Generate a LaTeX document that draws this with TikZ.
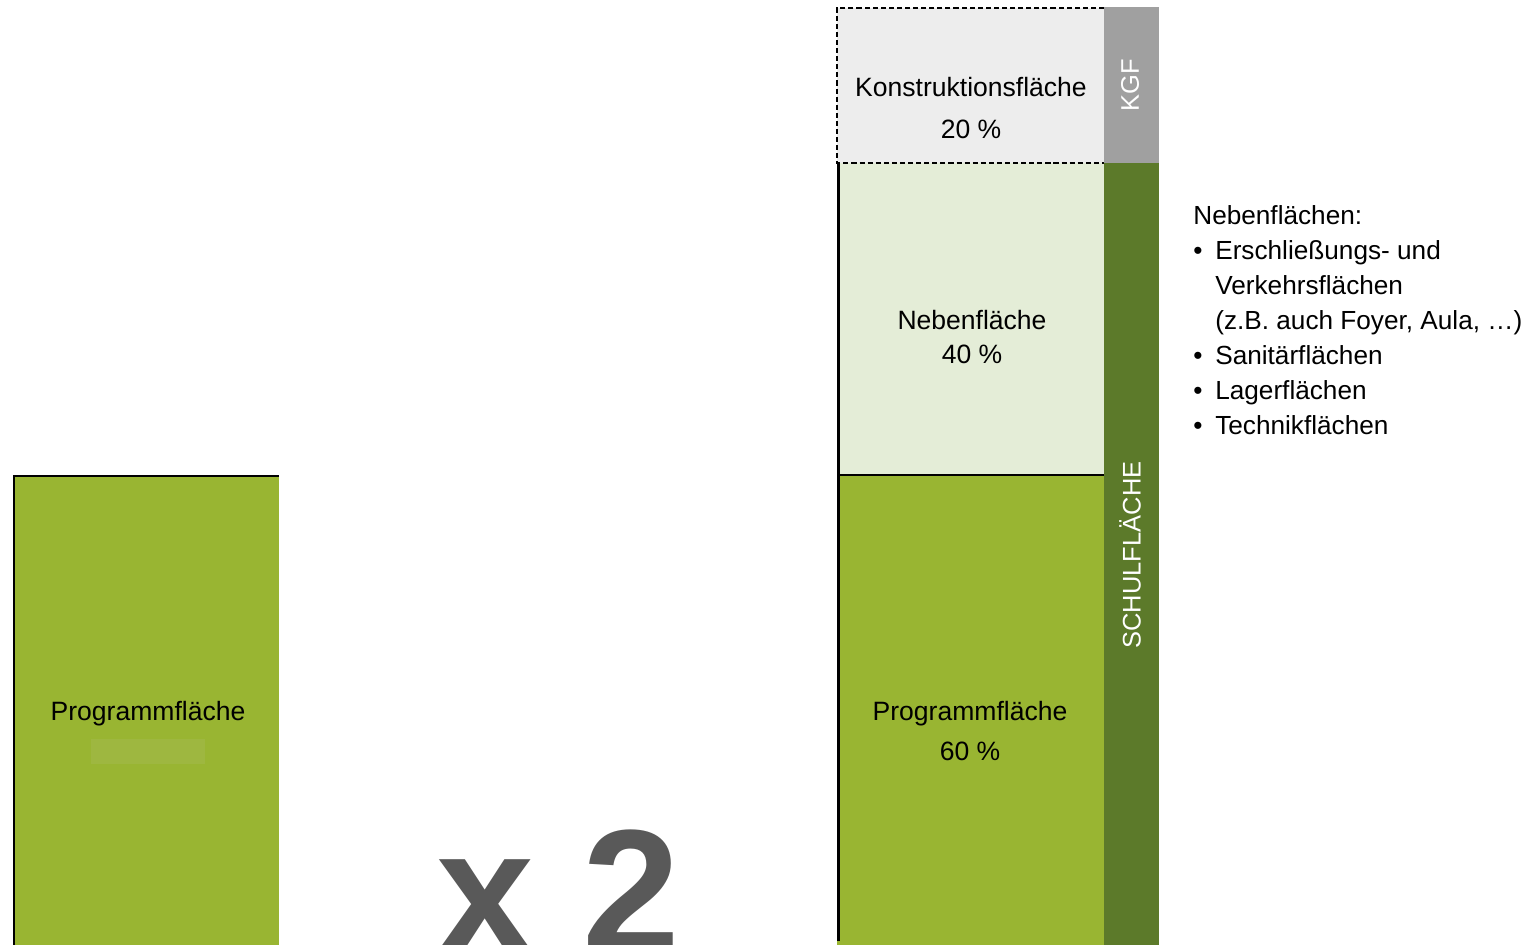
\documentclass[tikz,border=0pt]{standalone}
\usepackage{fontspec}
\setmainfont{Liberation Sans}
\usetikzlibrary{calc}
\definecolor{prog}{HTML}{99B532}
\definecolor{progfaint}{HTML}{9EB740}
\definecolor{neben}{HTML}{E4EDD7}
\definecolor{konst}{HTML}{EDEDED}
\definecolor{kgfbar}{HTML}{A0A0A0}
\definecolor{schulbar}{HTML}{5C7A2A}
\definecolor{bigtxt}{HTML}{595959}
\tikzset{
  sideline/.style={draw=black, line width=1.7pt},
  thinline/.style={draw=black, line width=1.0pt},
  dashline/.style={draw=black, line width=0.9pt, dash pattern=on 2.9pt off 1.7pt},
  lab/.style={text=black, align=center, inner sep=0pt, font=\fontsize{15.1}{18}\selectfont},
  barlab/.style={text=white, rotate=90, inner sep=0pt, font=\fontsize{14.5}{17}\selectfont},
  listtxt/.style={text=black, inner sep=0pt, anchor=north west, font=\fontsize{14.9}{19.9}\selectfont},
  bignum/.style={text=bigtxt, inner sep=0pt, anchor=base west, font=\fontsize{100}{100}\selectfont\bfseries},
}

\begin{document}
\begin{tikzpicture}[x=0.02cm, y=-0.02cm]
  \useasboundingbox (0,0) rectangle (1534,945);
  % single programme area
  \coordinate (L1) at (13,476);
  \coordinate (L2) at (279,945);
  \fill[prog] (L1) rectangle (L2);
  \fill[progfaint] (91,739) rectangle (205,764);
  \draw[thinline] (L1) -- (L1 -| L2);
  \draw[sideline] ($(L1)+(1,0)$) -- ($(L1|-L2)+(1,0)$);
  \node[lab] (progL) at (148,714) {Programmfläche};

  % factor
  \begin{scope}
    \clip (0,0) rectangle (1534,945);
    \node[bignum] (fac) at (436,952) {x 2};
  \end{scope}

  % stacked school area
  \coordinate (A) at (837,8);    % top left
  \coordinate (B) at (1104,163); % konst / neben
  \coordinate (C) at (1104,475); % neben / prog
  \coordinate (D) at (1104,945); % bottom right of column
  \coordinate (E) at (1159,7);   % right edge of bar
  \fill[konst] (A) rectangle (B);
  \fill[neben] (A|-B) rectangle (C);
  \fill[prog] (A|-C) rectangle (D);
  \fill[kgfbar] (B|-E) rectangle (E|-B);
  \fill[schulbar] (B) rectangle (E|-D);
  \draw[dashline] (A-|B) -- (A) -- (A|-B) -- (B);
  \draw[sideline] ($(A|-B)+(1,0)$) -- ($(A|-D)+(1,-4)$);
  \draw[thinline] (A|-C) -- (C);

  \node[lab] (konstT) at (971,108) {Konstruktionsfläche\\[5.8pt]20 \%};
  \node[lab] (nebenT) at (972,337) {Nebenfläche\\[1.3pt]40 \%};
  \node[lab] (progT) at (970,731) {Programmfläche\\[4.8pt]60 \%};
  \node[barlab] (kgf) at (1130,85) {KGF};
  \node[barlab] (schul) at (1130,555) {SCHULFLÄCHE};

  % list of secondary areas
  \node[listtxt] (liste) at (1193,200) {%
    \begin{tabular}{@{}p{12.5pt}@{}l@{}}
      \multicolumn{2}{@{}l@{}}{Nebenflächen:}\\
      \textbullet & Erschließungs- und\\
                  & Verkehrsflächen\\
                  & (z.B. auch Foyer, Aula, …)\\
      \textbullet & Sanitärflächen\\
      \textbullet & Lagerflächen\\
      \textbullet & Technikflächen
    \end{tabular}};
\end{tikzpicture}
\end{document}
